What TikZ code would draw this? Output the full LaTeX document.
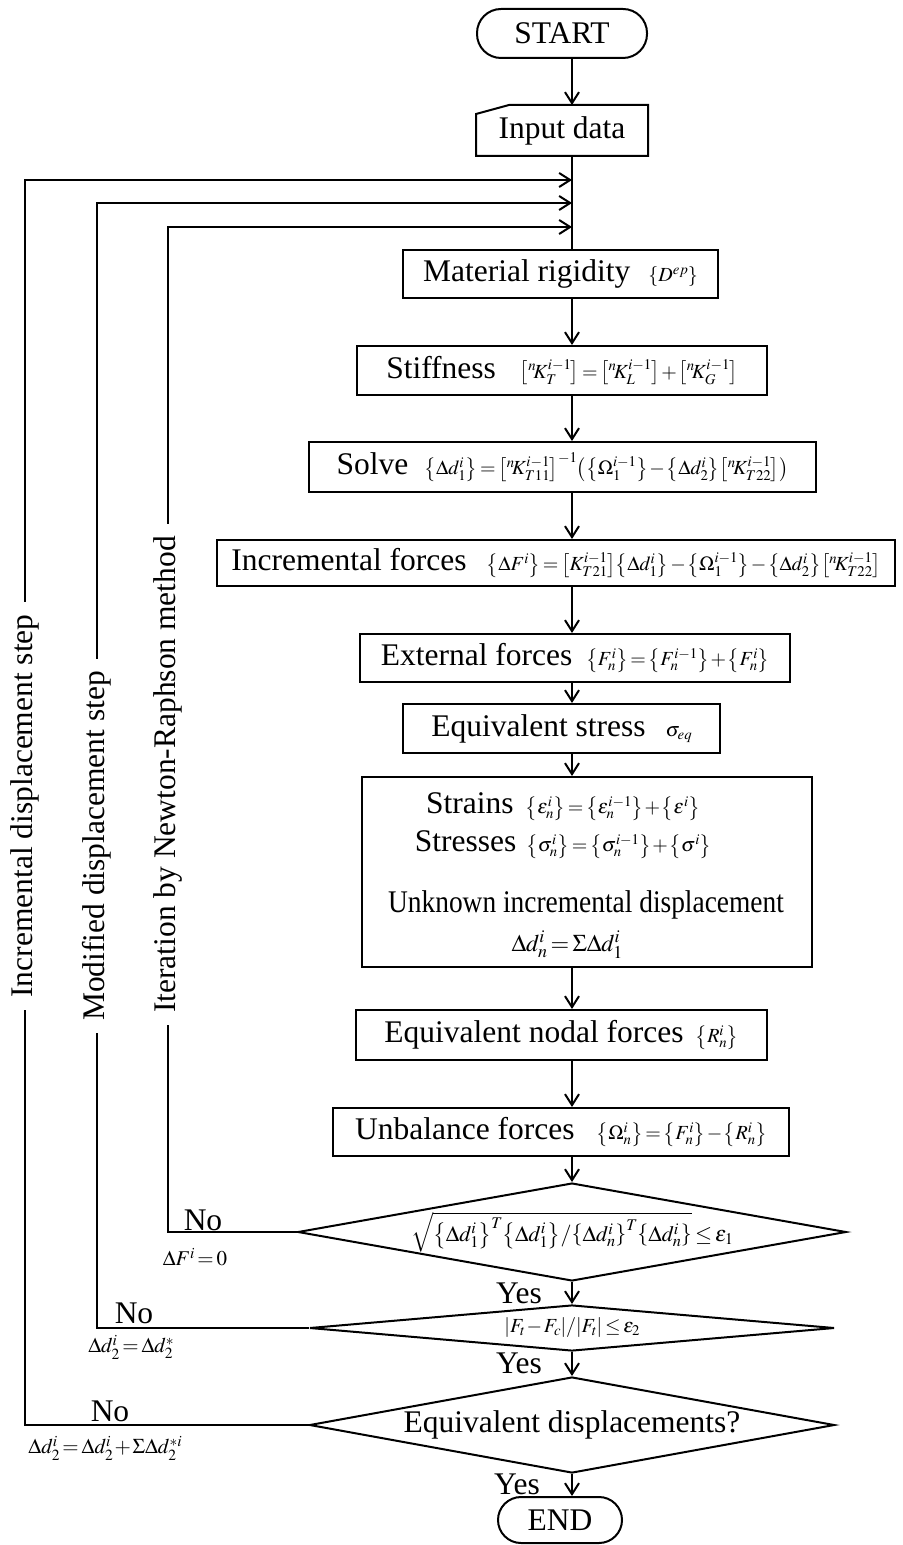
\documentclass[tikz,border=0pt]{standalone}
\usepackage{mathptmx}
\usepackage[no-math]{fontspec}
\setmainfont{Liberation Serif}
\usetikzlibrary{arrows.meta,shapes.geometric,calc}
\newcommand{\mainfs}{\fontsize{15.75}{18}\selectfont}
\newcommand{\mytight}{\medmuskip=1.5mu\thickmuskip=2.5mu\nulldelimiterspace=0pt\scriptspace=0pt}
\newcommand{\myfm}[1]{{\fontsize{10}{12}\selectfont\mytight$#1$}}
\newcommand{\mysfm}[1]{{\fontsize{10.5}{12}\selectfont\mytight$#1$}}
\newcommand{\mydfm}[1]{{\fontsize{11}{13}\selectfont\mytight$#1$}}
\newcommand{\mybr}[1]{{\left\{#1\right\}}}
\newcommand{\mysq}[1]{{\left[#1\right]}}
\newcommand{\myab}[1]{{\left|#1\right|}}
\begin{document}
\begin{tikzpicture}[x=0.5pt,y=-0.5pt,line width=1pt,
  box/.style={draw,rectangle,inner sep=0pt,font=\mainfs},
  term/.style={draw,rectangle,inner sep=0pt,font=\mainfs},
  dec/.style={draw,diamond,inner sep=0pt,font=\mainfs},
  plain/.style={inner sep=1pt,font=\mainfs},
  vlab/.style={fill=white,inner xsep=6pt,inner ysep=1pt,font=\mainfs,rotate=90},
  arr/.style={-{Straight Barb[length=5.5pt,width=7pt]}}]
\useasboundingbox (0,0) rectangle (903,1545);
\coordinate (ax) at (572,0);
% terminals and input
\node[term,rounded corners=12pt,minimum width=85pt,minimum height=24.5pt] (start) at (562,33.5) {START};
\node[plain,inner sep=0pt,minimum width=85pt,minimum height=24.5pt] (input) at (562,130.5) {Input data};
\draw (input.south west) -- ($(input.north west)+(0,9)$) -- ($(input.north west)+(33,0)$) -- (input.north east) -- (input.south east) -- cycle;
% process boxes
\node[box,minimum width=157.5pt,minimum height=24pt] (mat) at (560.5,274) {Material rigidity\hspace{9pt}\myfm{\mybr{D^{ep}}}};
\node[box,minimum width=205pt,minimum height=24.5pt] (stiff) at (562,370.5) {Stiffness\hspace{12pt}\myfm{\mysq{{}^{n}\!K_T^{i-1}}=\mysq{{}^{n}\!K_L^{i-1}}+\mysq{{}^{n}\!K_G^{i-1}}}};
\node[box,minimum width=253.5pt,minimum height=25pt] (solve) at (562.5,467) {Solve\hspace{8pt}\myfm{\mybr{\Delta d_1^i}=\mysq{{}^{n}\!K_{T11}^{i-1}}^{-1}{\left(\mybr{\Omega_1^{i-1}}-\mybr{\Delta d_2^i}\mysq{{}^{n}\!K_{T22}^{i-1}}\right)}}};
\node[box,minimum width=339pt,minimum height=23pt] (incr) at (556,563) {Incremental forces\hspace{10pt}\myfm{\mybr{\Delta F^i}=\mysq{K_{T21}^{i-1}}\mybr{\Delta d_1^i}-\mybr{\Omega_1^{i-1}}-\mybr{\Delta d_2^i}\mysq{{}^{n}\!K_{T22}^{i-1}}}};
\node[box,minimum width=215pt,minimum height=24pt] (ext) at (575,658) {External forces\hspace{7pt}\myfm{\mybr{F_n^i}=\mybr{F_n^{i-1}}+\mybr{F_n^i}}};
\node[box,minimum width=158.5pt,minimum height=24.5pt] (eqs) at (561.5,728.5) {Equivalent stress\hspace{10pt}\myfm{\sigma_{eq}}};
\node[box,minimum width=225pt,minimum height=95pt] (big) at (587,872) {};
\node[plain] (strains) at (563,807) {Strains\hspace{6pt}\myfm{\mybr{\varepsilon_n^i}=\mybr{\varepsilon_n^{i-1}}+\mybr{\varepsilon^i}}};
\node[plain] (stresses) at (563,845) {Stresses\hspace{5pt}\myfm{\mybr{\sigma_n^i}=\mybr{\sigma_n^{i-1}}+\mybr{\sigma^i}}};
\node[plain] (unknown) at (586,905) {\scalebox{0.87}[1]{Unknown incremental displacement}};
\node[plain] (ddn) at (567,945) {{\fontsize{12}{14}\selectfont\mytight$\Delta d_n^i=\Sigma\Delta d_1^i$}};
\node[box,minimum width=205.5pt,minimum height=25pt] (nodal) at (561.5,1035) {Equivalent nodal forces\hspace{6pt}\myfm{\mybr{R_n^i}}};
\node[box,minimum width=228pt,minimum height=24pt] (unbal) at (561,1132) {Unbalance forces\hspace{11pt}\myfm{\mybr{\Omega_n^i}=\mybr{F_n^i}-\mybr{R_n^i}}};
% decisions
\node[dec,aspect=5.6,minimum width=262.5pt,minimum height=47pt] (d1) at (572,1232) {\mydfm{\sqrt{\mybr{\Delta d_1^i}^T\mybr{\Delta d_1^i}/\mybr{\Delta d_n^i}^T\mybr{\Delta d_n^i}}\le\varepsilon_1}};
\node[dec,aspect=11.4,minimum width=262.5pt,minimum height=23pt] (d2) at (572,1328) {{\fontsize{10}{12}\selectfont\mytight$\myab{F_t-F_c}/\myab{F_t}\le\varepsilon_2$}};
\node[dec,aspect=5.5,minimum width=262.5pt,minimum height=48pt] (d3) at (572,1425) {Equivalent displacements?};
\node[term,rounded corners=11.5pt,minimum width=62pt,minimum height=23pt] (end) at (560,1520) {END};
% main flow
\draw[arr] (start.south -| ax) -- (input.north -| ax);
\draw (input.south -| ax) -- (mat.north -| ax);
\draw[arr] (mat.south -| ax) -- (stiff.north -| ax);
\draw[arr] (stiff.south -| ax) -- (solve.north -| ax);
\draw[arr] (solve.south -| ax) -- (incr.north -| ax);
\draw[arr] (incr.south -| ax) -- (ext.north -| ax);
\draw[arr] (ext.south -| ax) -- (eqs.north -| ax);
\draw[arr] (eqs.south -| ax) -- (big.north -| ax);
\draw[arr] (big.south -| ax) -- (nodal.north -| ax);
\draw[arr] (nodal.south -| ax) -- (unbal.north -| ax);
\draw[arr] (unbal.south -| ax) -- (d1.north);
\draw[arr] (d1.south) -- (d2.north);
\draw[arr] (d2.south) -- (d3.north);
\draw[arr] (d3.south -| ax) -- (end.north -| ax);
% feedback loops
\coordinate (c1) at (168,227);
\coordinate (c2) at (97,203);
\coordinate (c3) at (25,180);
\draw[arr] (d1.west) -| (c1) -- (c1 -| ax);
\draw[arr] (d2.west) -| (c2) -- (c2 -| ax);
\draw[arr] (d3.west) -| (c3) -- (c3 -| ax);
\node[vlab] (lab1) at (168,774.5) {Iteration by Newton-Raphson method};
\node[vlab] (lab2) at (97,846) {Modified displacement step};
\node[vlab] (lab3) at (25,806) {Incremental displacement step};
% labels
\node[plain] (no1) at (203,1220) {No};
\node[plain] (no2) at (134,1313) {No};
\node[plain] (no3) at (110,1411) {No};
\node[plain] (yes1) at (519,1293) {Yes};
\node[plain] (yes2) at (519,1363) {Yes};
\node[plain] (yes3) at (517,1484) {Yes};
\node[plain] (f1) at (195,1257) {\mysfm{\Delta F^i=0}};
\node[plain] (f2) at (131,1347) {\mysfm{\Delta d_2^i=\Delta d_2^{*}}};
\node[plain] (f3) at (105,1448) {\mysfm{\Delta d_2^i=\Delta d_2^i+\Sigma\Delta d_2^{*i}}};
\end{tikzpicture}
\end{document}
